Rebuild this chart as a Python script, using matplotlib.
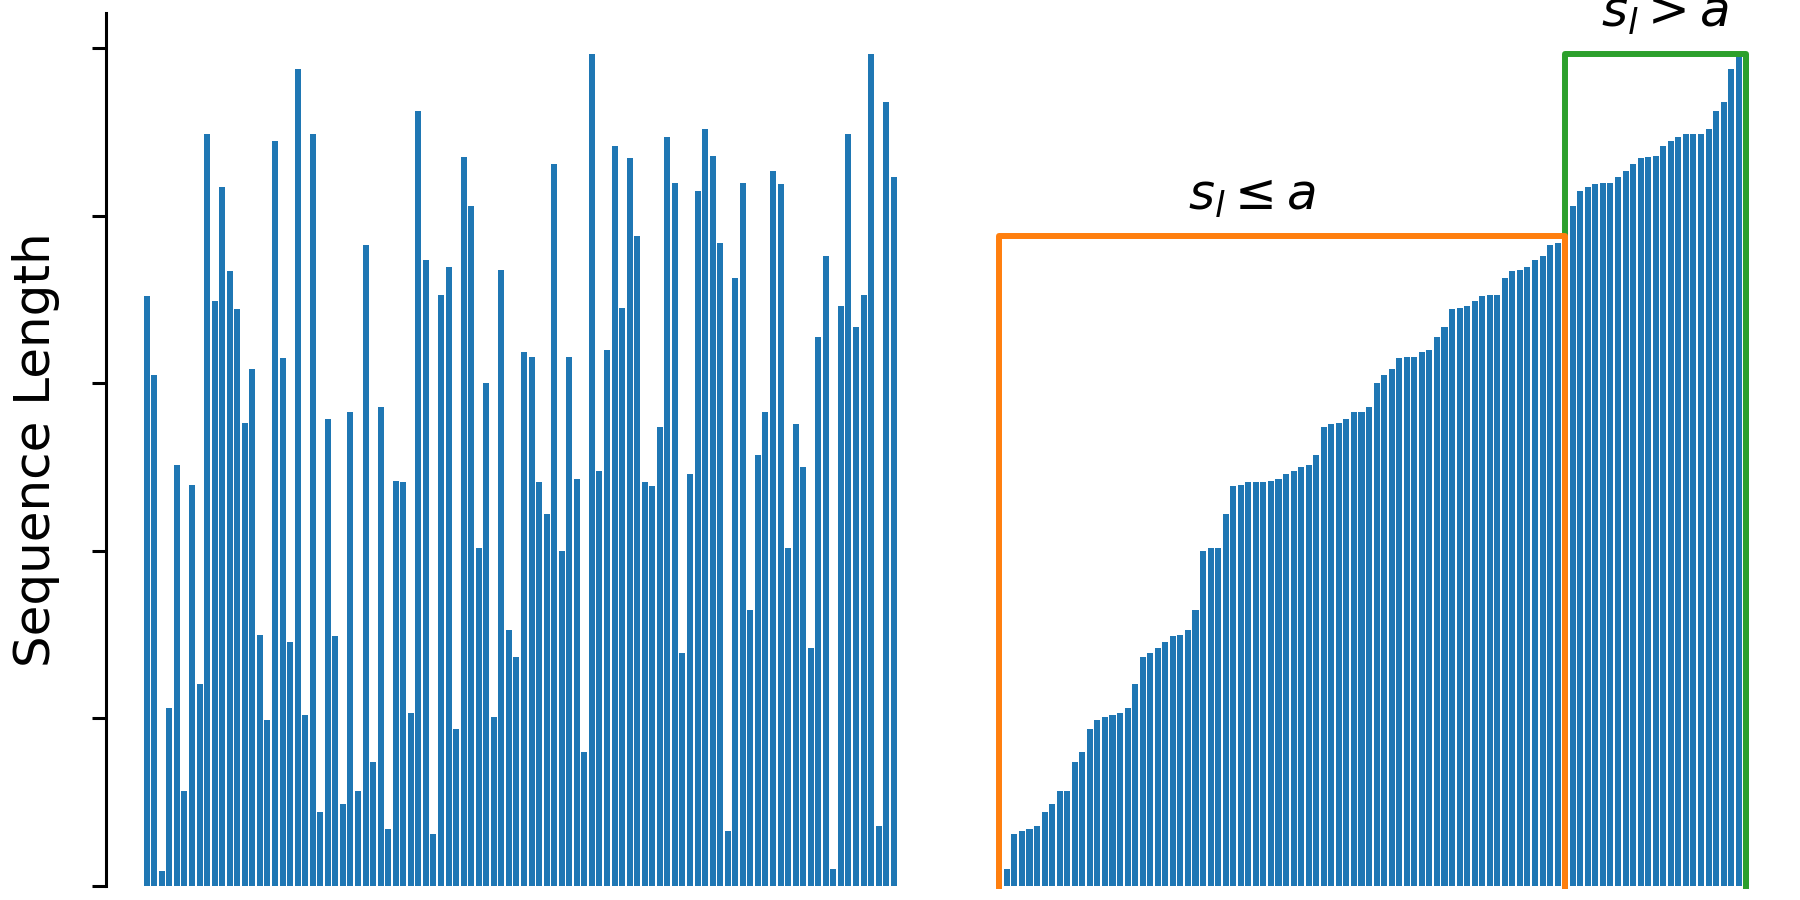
import matplotlib.pyplot as plt

# sequence lengths of one batch, in original order
seq_lengths = [
    352, 305, 9, 106, 251.5, 56.5, 239.5, 120.5, 449, 349,
    417, 367, 344.6, 276.5, 308.7, 150, 99, 444.5, 315, 145.4,
    487.6, 102, 449, 44, 279, 149.5, 49, 283, 56.5, 382.6,
    74, 286, 34, 242, 241, 103, 462.7, 373.7, 31, 353,
    369.6, 94, 435, 406, 201.6, 300.5, 101, 368, 153, 136.5,
    319, 316, 241, 222, 431, 200, 316, 243, 80, 496.5,
    248, 320, 442, 345, 434.6, 388, 241, 239, 274, 447,
    419.5, 139, 246, 414.7, 451.7, 435.6, 384, 33, 363, 419.5,
    165, 257, 283, 426.7, 419, 201.6, 276, 250, 142, 328,
    376, 10, 346, 449, 334, 353, 496.5, 36, 468, 423,
]

# right panel: same lengths, sorted
sorted_lengths = sorted(seq_lengths)
split = 75          # first index of the s_l > a group
offset = 113        # x shift of the sorted panel
a = sorted_lengths[split]
s_max = sorted_lengths[-1]

fig = plt.figure(figsize=(18, 9), dpi=100)
ax = fig.add_axes([106 / 1800, 14 / 900, 1694 / 1800, 873.4 / 900])

x_left = list(range(len(seq_lengths)))
x_right = [offset + i for i in range(len(sorted_lengths))]
ax.bar(x_left, seq_lengths, width=0.8, color="C0")
ax.bar(x_right, sorted_lengths, width=0.8, color="C0")

# group outlines
last = offset + len(sorted_lengths) - 1
ax.plot([offset + split, offset + split, last, last],
        [0, s_max, s_max, 0], color="C2", lw=4.3, zorder=3, clip_on=False)
ax.plot([offset, offset, offset + split, offset + split],
        [0, a, a, 0], color="C1", lw=4.3, zorder=4, clip_on=False)

ax.text(offset + 33.5, 403.6, r"$s_l \leq a$", fontsize=36, ha="center", va="baseline")
ax.text(offset + 88.2, 512.8, r"$s_l > a$", fontsize=36, ha="center", va="baseline",
        clip_on=False)

ax.set_xlim(-5.4, -5.4 + 1694 / 7.545)
ax.set_ylim(0, 521.4)
ax.set_yticks([0, 100, 200, 300, 400, 500])
ax.set_yticklabels([])
ax.set_xticks([])
for side in ["top", "right", "bottom"]:
    ax.spines[side].set_visible(False)
ax.spines["left"].set_linewidth(2.2)
ax.tick_params(axis="y", length=10, width=2.2, direction="out")

ax.set_ylabel("Sequence Length", fontsize=36)
ax.yaxis.set_label_coords(-0.0272, 0.5)

fig.savefig("out.png", dpi=100)
